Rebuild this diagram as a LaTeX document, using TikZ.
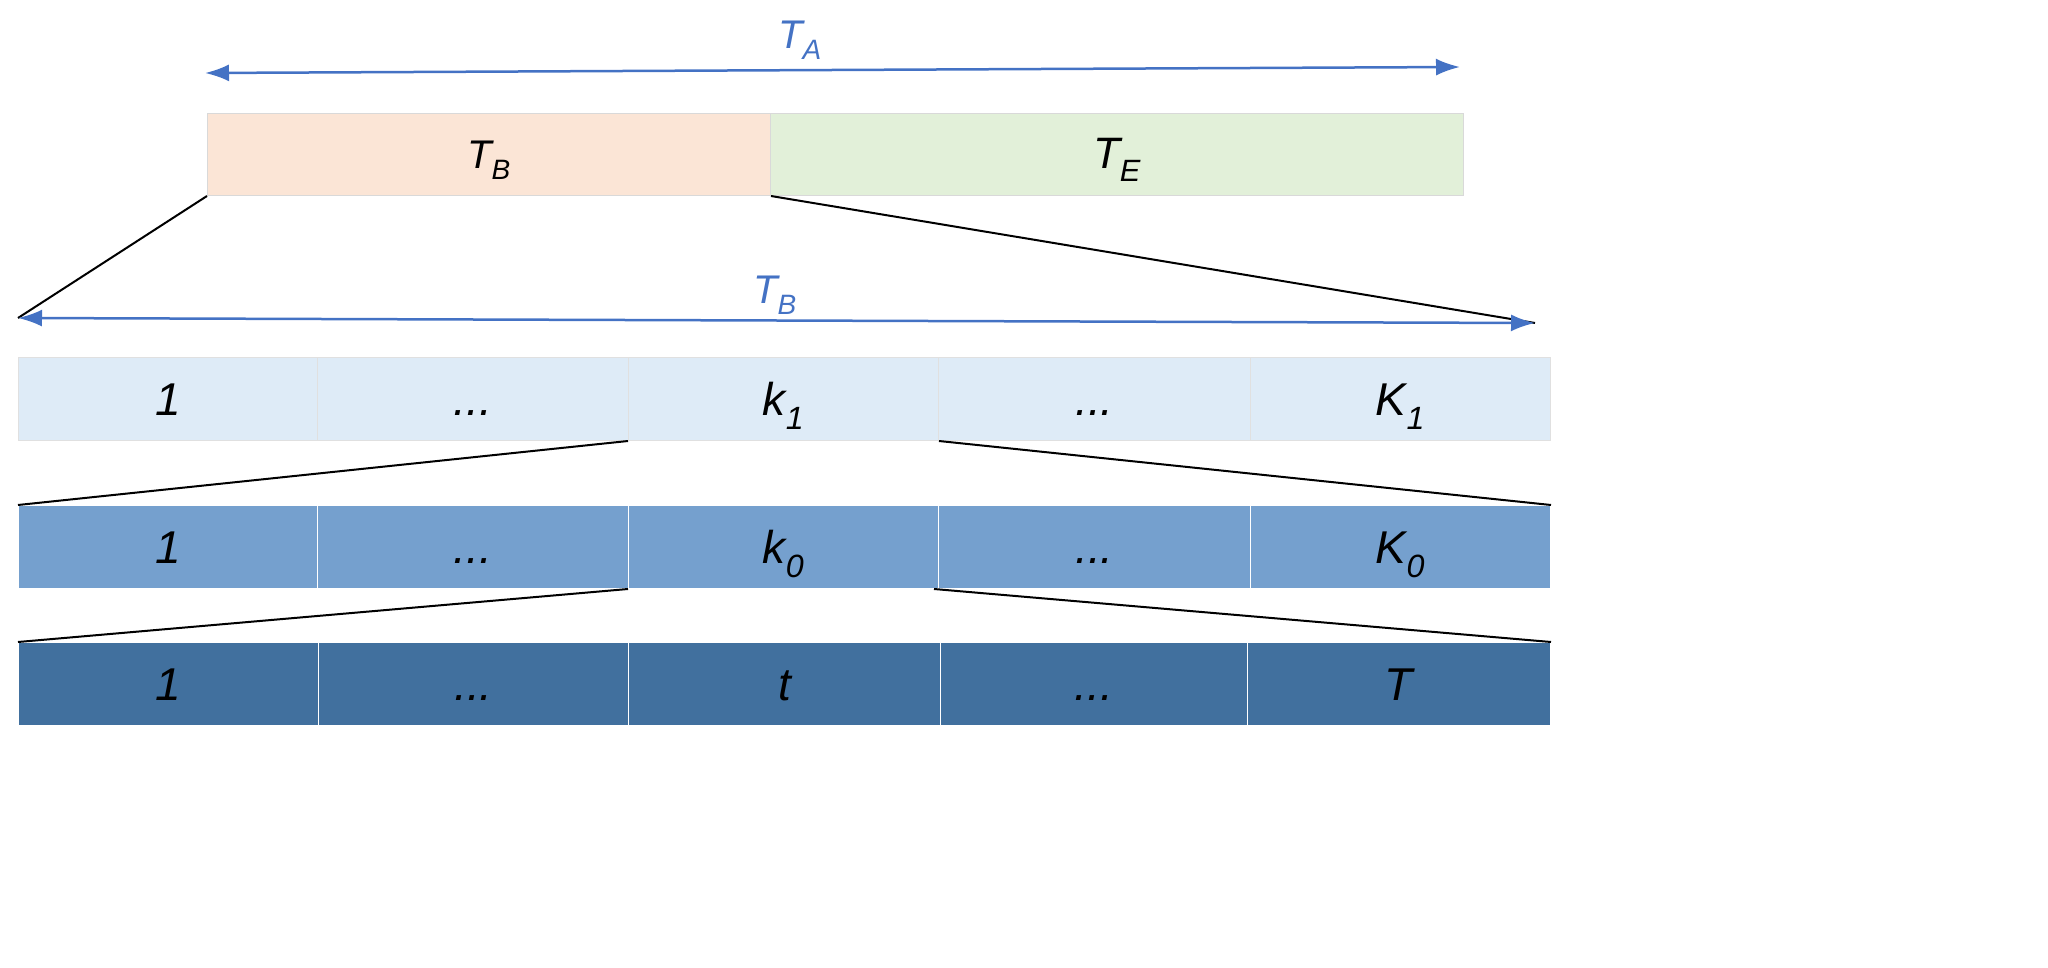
\documentclass[tikz,border=0pt]{standalone}
\usepackage{fontspec}
\setmainfont{Liberation Sans}
\usetikzlibrary{arrows.meta}
\definecolor{ablue}{HTML}{4472C4}
\definecolor{orng}{HTML}{FBE5D6}
\definecolor{grn}{HTML}{E2F0D9}
\definecolor{r1}{HTML}{DEEBF7}
\definecolor{r2}{HTML}{75A0CE}
\definecolor{r3}{HTML}{41709E}
\begin{document}
\begin{tikzpicture}[x=1pt,y=-1pt,
  cell/.style={line width=1pt,minimum height=83pt,anchor=north west,inner sep=0pt,text height=33pt,text depth=0pt,font=\fontsize{46}{50}\selectfont\itshape},
  bar/.style={draw=black!15,line width=1pt,minimum height=82pt,anchor=north west,inner sep=0pt,text height=29pt,text depth=0pt,font=\fontsize{40}{46}\selectfont\itshape},
  zoom/.style={line width=2pt,black},
  dim/.style={ablue,line width=2.5pt,{Latex[length=24pt,width=17pt]}-{Latex[length=24pt,width=17pt]}},
  lab/.style={ablue,font=\fontsize{40}{46}\selectfont\itshape}]
\useasboundingbox (0,0) rectangle (2048,968);
% top arrow
\coordinate (a1) at (205,73); \coordinate (a2) at (1460,67);
\draw[dim] (a1) -- (a2);
\node[lab] (ta) at (800,40) {T\textsubscript{A}};
\node[bar,fill=orng,minimum width=563pt] (tb) at (207,113) {T\textsubscript{B}};
\node[bar,fill=grn,minimum width=693pt] (te) at (770,113) {\fontsize{44}{48}\selectfont T\textsubscript{E}};
% T_B arrow
\coordinate (b1) at (18,318); \coordinate (b2) at (1535,323);
\draw[zoom] (tb.south west) -- (b1);
\draw[zoom] (tb.south east) -- (b2);
\draw[dim] (b1) -- (b2);
\node[lab] (tbl) at (775,295) {T\textsubscript{B}};
% row 1
\node[cell,fill=r1,draw=black!12,minimum width=299pt] (p1) at (18,357) {1};
\node[cell,fill=r1,draw=black!12,minimum width=311pt] (p2) at (317,357) {...};
\node[cell,fill=r1,draw=black!12,minimum width=310pt] (p3) at (628,357) {k\textsubscript{1}};
\node[cell,fill=r1,draw=black!12,minimum width=312pt] (p4) at (938,357) {...};
\node[cell,fill=r1,draw=black!12,minimum width=300pt] (p5) at (1250,357) {K\textsubscript{1}};
% row 2
\node[cell,fill=r2,draw=white,minimum width=299pt] (q1) at (18,505) {1};
\node[cell,fill=r2,draw=white,minimum width=311pt] (q2) at (317,505) {...};
\node[cell,fill=r2,draw=white,minimum width=310pt] (q3) at (628,505) {k\textsubscript{0}};
\node[cell,fill=r2,draw=white,minimum width=312pt] (q4) at (938,505) {...};
\node[cell,fill=r2,draw=white,minimum width=300pt] (q5) at (1250,505) {K\textsubscript{0}};
% row 3
\node[cell,fill=r3,draw=white,minimum width=300pt] (s1) at (18,642) {1};
\node[cell,fill=r3,draw=white,minimum width=310pt] (s2) at (318,642) {...};
\node[cell,fill=r3,draw=white,minimum width=312pt] (s3) at (628,642) {t};
\node[cell,fill=r3,draw=white,minimum width=307pt] (s4) at (940,642) {...};
\node[cell,fill=r3,draw=white,minimum width=303pt] (s5) at (1247,642) {T};
% zoom lines
\draw[zoom] (p3.south west) -- (q1.north west);
\draw[zoom] (p3.south east) -- (q5.north east);
\draw[zoom] (q3.south west) -- (s1.north west);
\draw[zoom] ([xshift=-5pt]q3.south east) -- (s5.north east);
\end{tikzpicture}
\end{document}
